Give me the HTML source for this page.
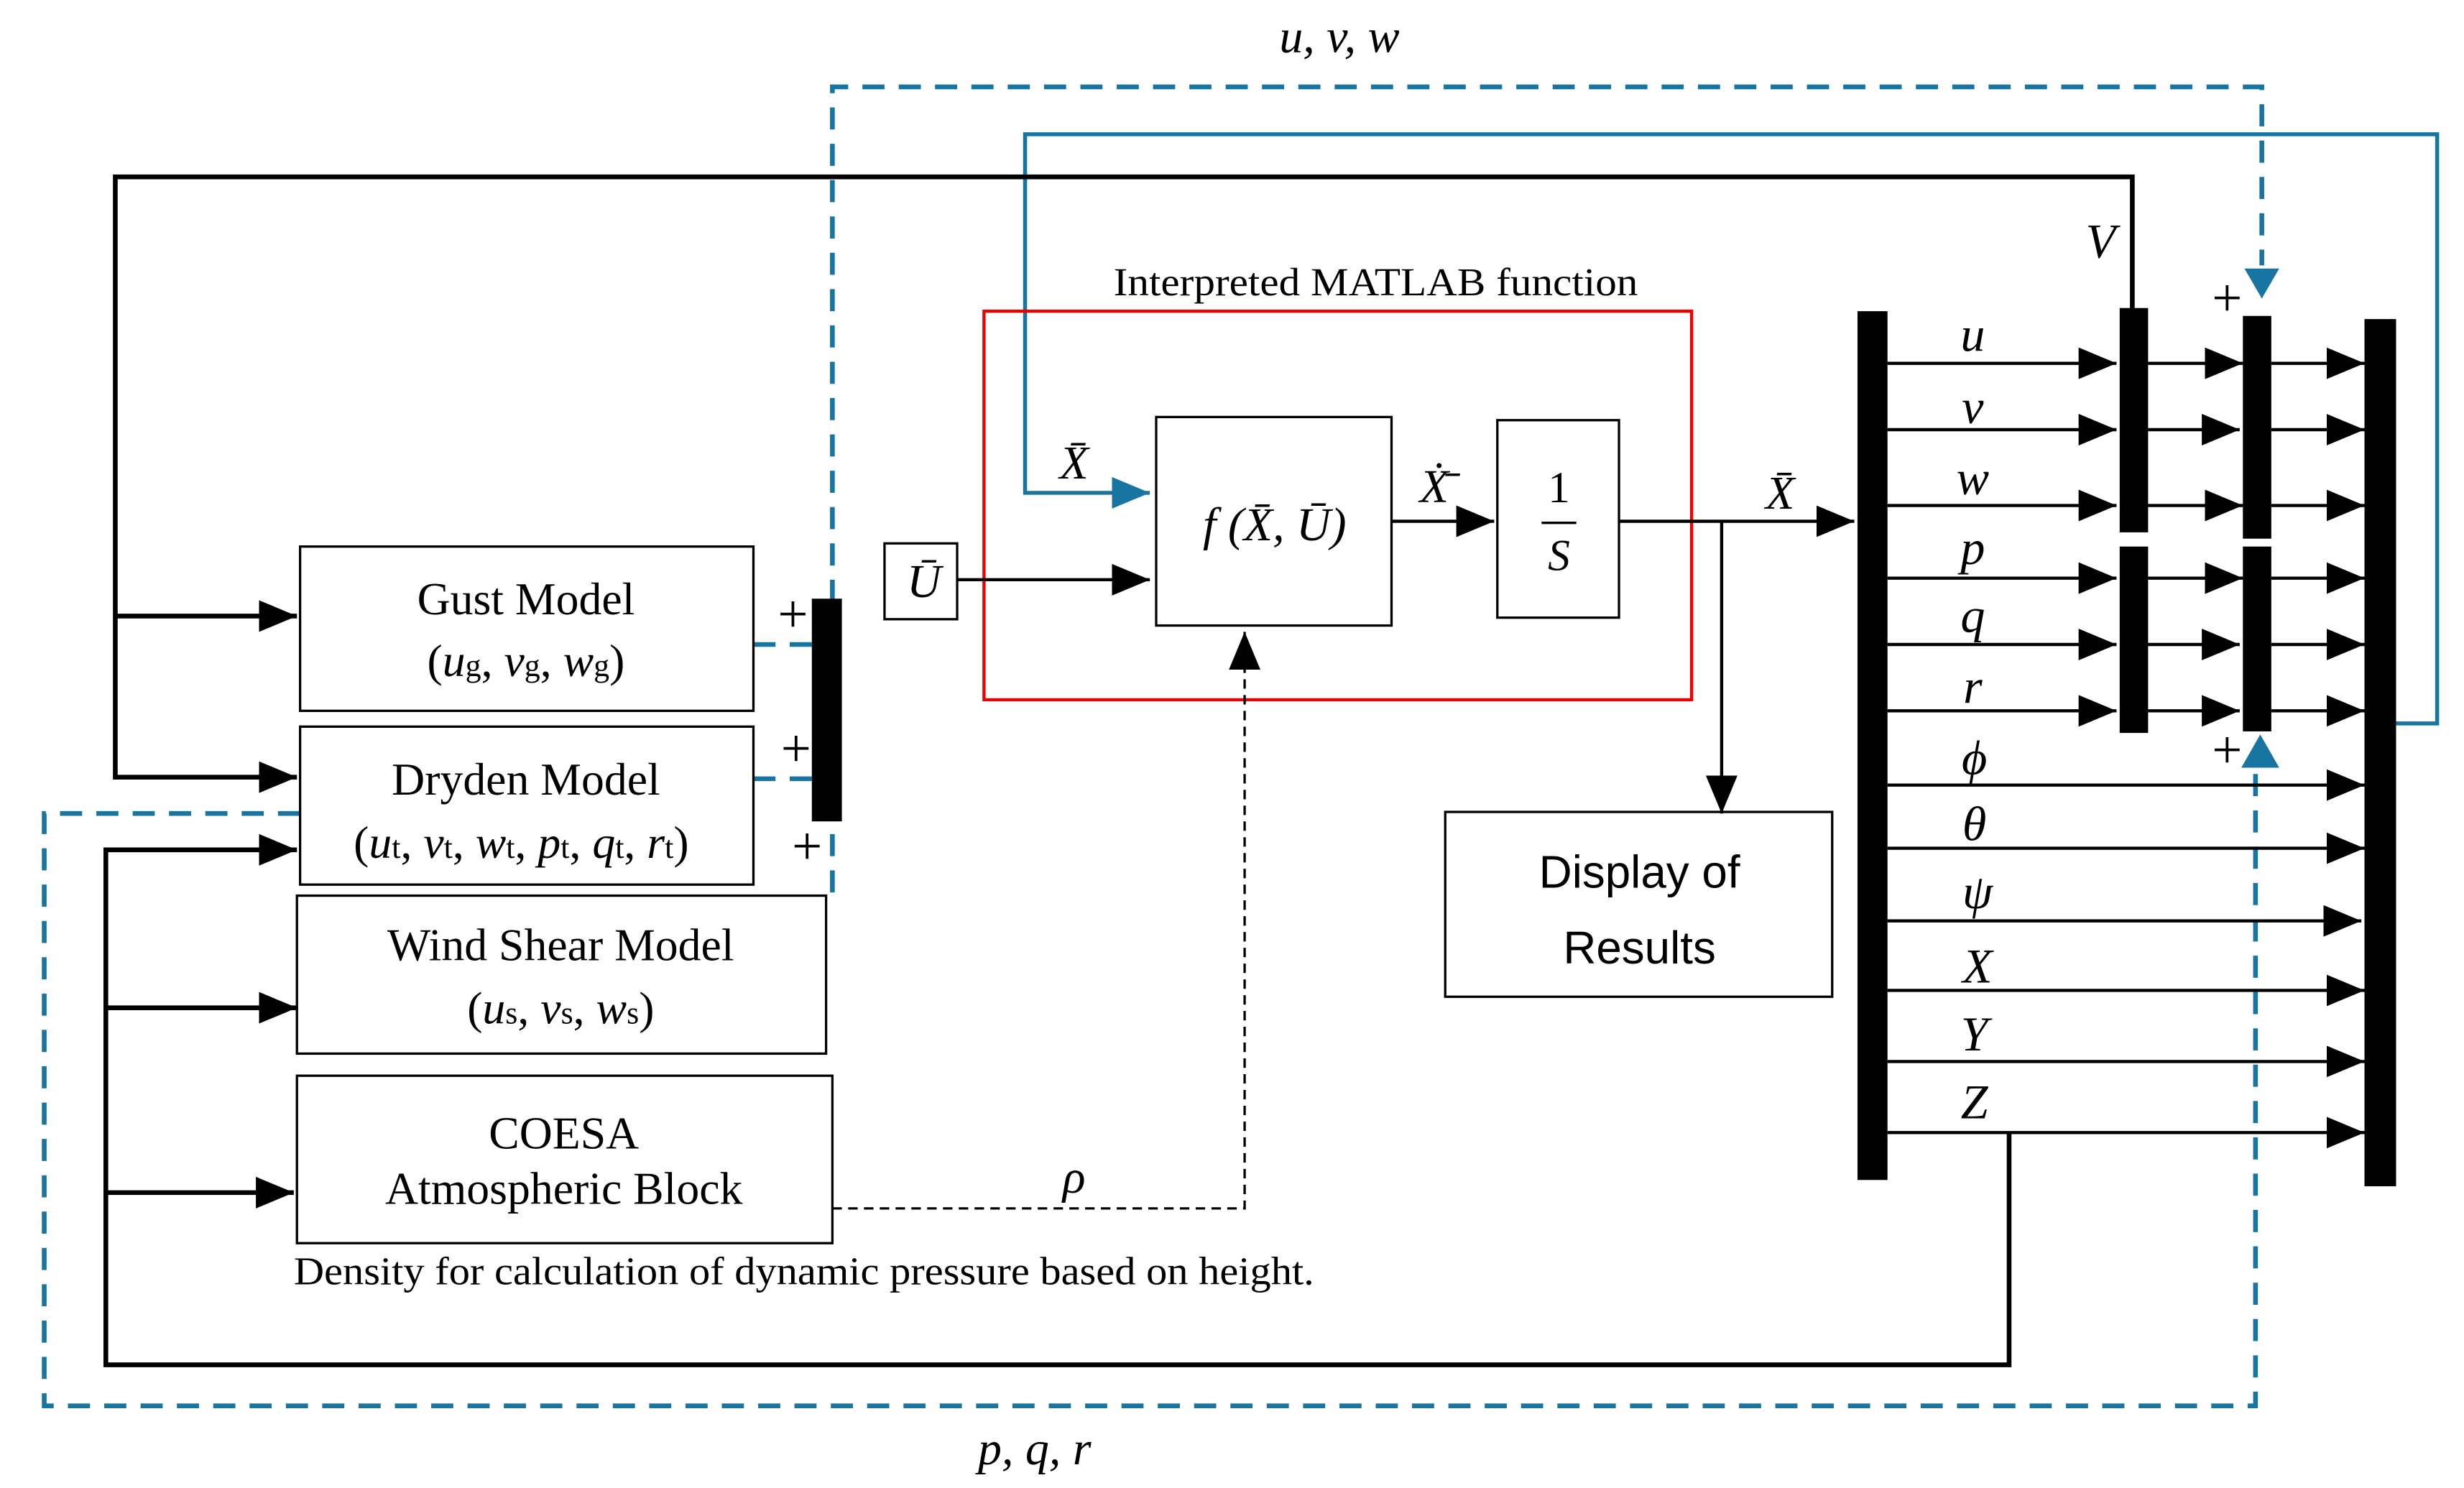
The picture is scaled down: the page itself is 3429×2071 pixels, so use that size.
<!DOCTYPE html>
<html><head><style>html,body{margin:0;padding:0;background:#fff}svg{display:block}
text{font-family:"Liberation Serif",serif;fill:#000}</style></head><body>
<svg width="3429" height="2071" viewBox="0 0 1560 942" preserveAspectRatio="none" xmlns="http://www.w3.org/2000/svg">
<defs>
<marker id="A" markerWidth="24" markerHeight="20" refX="24" refY="10" orient="auto" markerUnits="userSpaceOnUse"><path d="M0,0L24,10L0,20z" fill="#000"/></marker>
<marker id="B" markerWidth="24" markerHeight="20" refX="24" refY="10" orient="auto" markerUnits="userSpaceOnUse"><path d="M0,0L24,10L0,20z" fill="#1874a0"/></marker>
</defs>
<g fill="none" stroke="#1874a0" stroke-width="3" stroke-dasharray="14,9">
<path d="M527,565V55H1432V168"/>
<path d="M477,408H515M477,493H515"/>
<path d="M190,515H28V890H1428V486"/>
</g>
<path d="M1432,170L1421,170L1432,189L1443,170Z" fill="#1874a0"/>
<path d="M1419,486L1431,465L1443,486Z" fill="#1874a0"/>
<path d="M1517,458H1543V85H649V312H728" fill="none" stroke="#1874a0" stroke-width="2.5" marker-end="url(#B)"/>
<g fill="none" stroke="#000" stroke-width="3" marker-end="url(#A)">
<path d="M1350,197V112H73V492H188"/>
<path d="M73,390H188"/>
<path d="M1272,717V864H67V538H188"/>
<path d="M67,638H188"/>
<path d="M67,755H186"/>
</g>
<rect x="623" y="197" width="448" height="246" fill="none" stroke="#e00" stroke-width="2"/>
<g fill="#fff" stroke="#000" stroke-width="1.5">
<rect x="732" y="264" width="149" height="132"/>
<rect x="948" y="266" width="77" height="125"/>
<rect x="560" y="344" width="46" height="48"/>
<rect x="915" y="514" width="245" height="117"/>
<rect x="190" y="346" width="287" height="104"/>
<rect x="190" y="460" width="287" height="100"/>
<rect x="188" y="567" width="335" height="100"/>
<rect x="188" y="681" width="339" height="106"/>
</g>
<g fill="none" stroke="#000" stroke-width="2" marker-end="url(#A)">
<path d="M606,367H728"/>
<path d="M881,330H946"/>
<path d="M1025,330H1174"/>
<path d="M1090,330V515"/>
<path d="M527,765H788V400" stroke-dasharray="6,4" stroke-width="1.5"/>
</g>
<g fill="#000">
<rect x="514" y="379" width="19" height="141"/>
<rect x="1176" y="197" width="19" height="550"/>
<rect x="1342" y="195" width="18" height="142"/>
<rect x="1342" y="346" width="18" height="118"/>
<rect x="1420" y="200" width="18" height="141"/>
<rect x="1420" y="346" width="18" height="117"/>
<rect x="1497" y="202" width="20" height="549"/>
</g>
<g fill="none" stroke="#000" stroke-width="2" marker-end="url(#A)">
<path d="M1195,230H1340"/><path d="M1195,272H1340"/><path d="M1195,320H1340"/>
<path d="M1195,366H1340"/><path d="M1195,408H1340"/><path d="M1195,450H1340"/>
<path d="M1360,230H1420"/><path d="M1360,272H1418"/><path d="M1360,320H1420"/>
<path d="M1360,366H1420"/><path d="M1360,408H1418"/><path d="M1360,450H1418"/>
<path d="M1438,230H1497"/><path d="M1438,272H1497"/><path d="M1438,320H1497"/>
<path d="M1438,366H1497"/><path d="M1438,408H1497"/><path d="M1438,450H1497"/>
<path d="M1195,497H1497"/><path d="M1195,537H1497"/><path d="M1195,583H1495"/>
<path d="M1195,627H1497"/><path d="M1195,672H1497"/><path d="M1195,717H1497"/>
</g>
<g font-size="31" font-style="italic" text-anchor="middle">
<text x="1249" y="222">u</text><text x="1249" y="268">v</text><text x="1249" y="313">w</text>
<text x="1249" y="357">p</text><text x="1249" y="400">q</text><text x="1249" y="445">r</text>
<text x="1250" y="490">ϕ</text><text x="1250" y="532">θ</text><text x="1252" y="575">ψ</text>
<text x="1252" y="622">X</text><text x="1250" y="665">Y</text><text x="1250" y="708">Z</text>
<text x="1330" y="163">V</text>
</g>
<g font-size="30" font-style="italic" text-anchor="middle">
<text x="848" y="33">u, v, w</text>
<text x="655" y="927">p, q, r</text>
<text x="680" y="755">ρ</text>
<text x="680" y="303">X̄</text>
<text x="908" y="318">Ẋ̄</text>
<text x="1127" y="322">X̄</text>
<text x="585" y="378">Ū</text>
<text x="807" y="342">f (X̄, Ū)</text>
</g>
<g font-size="34" text-anchor="middle">
<text x="1410" y="200">+</text><text x="1410" y="486">+</text>
<text x="502" y="400">+</text><text x="504" y="485">+</text><text x="511" y="547">+</text>
</g>
<g font-size="28" text-anchor="middle">
<text x="987" y="318">1</text>
<text x="987" y="361" font-style="italic">S</text>
</g>
<line x1="976" y1="331" x2="998" y2="331" stroke="#000" stroke-width="1.5"/>
<g font-size="29" text-anchor="middle">
<text x="333" y="389">Gust Model</text>
<text x="333" y="428">(<tspan font-style="italic">u</tspan><tspan font-size="20">g</tspan>, <tspan font-style="italic">v</tspan><tspan font-size="20">g</tspan>, <tspan font-style="italic">w</tspan><tspan font-size="20">g</tspan>)</text>
<text x="333" y="503">Dryden Model</text>
<text x="330" y="543">(<tspan font-style="italic">u</tspan><tspan font-size="20">t</tspan>, <tspan font-style="italic">v</tspan><tspan font-size="20">t</tspan>, <tspan font-style="italic">w</tspan><tspan font-size="20">t</tspan>, <tspan font-style="italic">p</tspan><tspan font-size="20">t</tspan>, <tspan font-style="italic">q</tspan><tspan font-size="20">t</tspan>, <tspan font-style="italic">r</tspan><tspan font-size="20">t</tspan>)</text>
<text x="355" y="608">Wind Shear Model</text>
<text x="355" y="648">(<tspan font-style="italic">u</tspan><tspan font-size="20">s</tspan>, <tspan font-style="italic">v</tspan><tspan font-size="20">s</tspan>, <tspan font-style="italic">w</tspan><tspan font-size="20">s</tspan>)</text>
<text x="357" y="727">COESA</text>
<text x="357" y="762">Atmospheric Block</text>
</g>
<text x="186" y="813" font-size="25" textLength="646" lengthAdjust="spacingAndGlyphs">Density for calculation of dynamic pressure based on height.</text>
<text x="705" y="187" font-size="25" textLength="332" lengthAdjust="spacingAndGlyphs">Interpreted MATLAB function</text>
<g font-size="29" text-anchor="middle">
<text x="1038" y="562" style="font-family:'Liberation Sans',sans-serif">Display of</text>
<text x="1038" y="610" style="font-family:'Liberation Sans',sans-serif">Results</text>
</g>
</svg>
</body></html>
